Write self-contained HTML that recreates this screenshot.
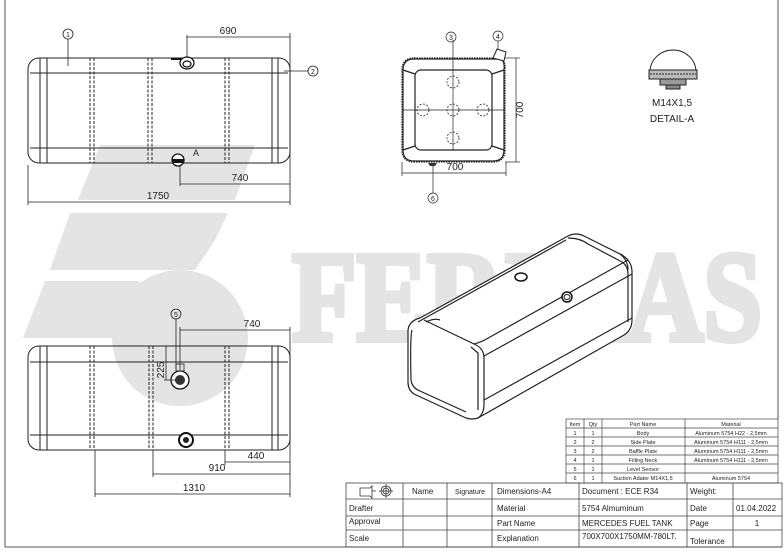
<!DOCTYPE html>
<html><head><meta charset="utf-8"><style>
html,body{margin:0;padding:0;background:#fff}
svg{display:block}
text{font-family:"Liberation Sans",sans-serif;fill:#222}
text.wm{font-family:"Liberation Serif",serif;font-weight:bold;fill:#e4e4e4}
</style></head><body>
<svg width="784" height="552" viewBox="0 0 784 552" xmlns="http://www.w3.org/2000/svg">
<!-- watermark -->
<g fill="#e4e4e4">
<polygon points="100,145 255,145 235,200 78,200"/>
<polygon points="70,213 228,213 215,240 195,270 50,270"/>
<polygon points="45,281 140,281 118,338 23,338"/>
<circle cx="180" cy="338" r="68"/>
</g>
<text class="wm" x="292" y="340" font-size="128" textLength="470" lengthAdjust="spacingAndGlyphs" stroke="#e4e4e4" stroke-width="6">FERIKAS</text>

<!-- frame -->
<g stroke="#555" fill="none" stroke-width="1">
<line x1="5" y1="0" x2="5" y2="547"/>
<line x1="778" y1="0" x2="778" y2="419"/>
<line x1="5" y1="547" x2="782" y2="547"/>
</g>

<!-- TOP VIEW -->
<g stroke="#222" fill="none" stroke-width="1">
<rect x="28" y="58" width="262" height="105" rx="11"/>
<line x1="30" y1="73" x2="288" y2="73"/>
<line x1="30" y1="148" x2="288" y2="148"/>
<line x1="40" y1="58" x2="40" y2="163"/><line x1="47" y1="58" x2="47" y2="163"/>
<line x1="272" y1="58" x2="272" y2="163"/><line x1="278" y1="58" x2="278" y2="163"/>
<g stroke-dasharray="3,1.5">
<line x1="90" y1="58" x2="90" y2="163"/><line x1="94" y1="58" x2="94" y2="163"/>
<line x1="148" y1="58" x2="148" y2="163"/><line x1="152" y1="58" x2="152" y2="163"/>
<line x1="225" y1="58" x2="225" y2="163"/><line x1="229" y1="58" x2="229" y2="163"/>
</g>
</g>
<g stroke="#111" fill="none" stroke-width="1.3">
<ellipse cx="187" cy="63" rx="7" ry="6" fill="#fff"/>
<ellipse cx="187" cy="64" rx="4" ry="3"/>
<line x1="171" y1="59" x2="181" y2="59" stroke-width="2"/>
<circle cx="178" cy="160" r="6" fill="#fff"/>
<path d="M172,160 h12 M173,162 h10" stroke-width="2"/>
</g>
<g stroke="#222" stroke-width="0.8" fill="none">
<line x1="187" y1="35" x2="187" y2="58"/><line x1="290" y1="33" x2="290" y2="205"/>
<line x1="187" y1="37" x2="290" y2="37"/>
<line x1="180" y1="165" x2="180" y2="186"/><line x1="180" y1="184" x2="290" y2="184"/>
<line x1="28" y1="165" x2="28" y2="205"/><line x1="28" y1="202" x2="290" y2="202"/>
<circle cx="68" cy="34" r="5"/><line x1="68" y1="39" x2="68" y2="66"/>
<circle cx="313" cy="71" r="5"/><line x1="284" y1="71" x2="308" y2="71"/>
</g>
<g font-size="10">
<text x="228" y="34" text-anchor="middle">690</text>
<text x="240" y="181" text-anchor="middle">740</text>
<text x="158" y="199" text-anchor="middle">1750</text>
<text x="193" y="156" font-size="9">A</text>
<text x="68" y="37" font-size="7" text-anchor="middle">1</text>
<text x="313" y="74" font-size="7" text-anchor="middle">2</text>
</g>

<!-- END VIEW -->
<g stroke="#222" fill="none" stroke-width="1.2">
<path d="M414,58 H500 Q506,60 505,70 V150 Q505,162 493,162 H414 Q402,162 402,150 V70 Q402,58 414,58 Z" stroke-dasharray="1.5,1"/>
<path d="M414,59 H500 Q505,60 504,70 V150 Q504,161 493,161 H414 Q403,161 403,150 V70 Q403,59 414,59 Z"/>
<rect x="415" y="70" width="77" height="80" rx="6"/>
<line x1="403" y1="70" x2="415" y2="74"/><line x1="504" y1="70" x2="492" y2="74"/>
<line x1="403" y1="150" x2="415" y2="146"/><line x1="504" y1="150" x2="492" y2="146"/>
</g>
<g stroke="#222" fill="none" stroke-width="0.8" stroke-dasharray="2,1.5">
<circle cx="453" cy="110" r="6"/><circle cx="453" cy="82" r="6"/><circle cx="453" cy="138" r="6"/>
<circle cx="423" cy="110" r="6"/><circle cx="483" cy="110" r="6"/>
</g>
<g stroke="#222" fill="none" stroke-width="0.7">
<line x1="402" y1="110" x2="505" y2="110"/><line x1="453" y1="40" x2="453" y2="150"/>
<line x1="505" y1="58" x2="520" y2="58"/><line x1="505" y1="162" x2="520" y2="162"/>
<line x1="516" y1="58" x2="516" y2="162"/>
<line x1="402" y1="162" x2="402" y2="176"/><line x1="506" y1="162" x2="506" y2="176"/>
<line x1="402" y1="173" x2="506" y2="173"/>
<circle cx="451" cy="37" r="5"/>
<circle cx="498" cy="36" r="5"/><line x1="498" y1="41" x2="498" y2="56"/>
<circle cx="433" cy="198" r="5"/><line x1="433" y1="165" x2="433" y2="193"/>
</g>
<path d="M493,58 l4,-9 l9,3 l-2,9 Z" fill="#fff" stroke="#222"/>
<path d="M428,163 h9 l-2,3 h-5 Z" fill="#333"/>
<g font-size="10">
<text x="455" y="170" text-anchor="middle">700</text>
<text transform="translate(523,110) rotate(-90)" text-anchor="middle">700</text>
<text x="451" y="40" font-size="7" text-anchor="middle">3</text>
<text x="498" y="39" font-size="7" text-anchor="middle">4</text>
<text x="433" y="201" font-size="7" text-anchor="middle">6</text>
</g>

<!-- DETAIL A -->
<path d="M650,72 A23,22 0 0 1 696,72 Z" fill="#fff" stroke="#222"/>
<rect x="649" y="70" width="48" height="9" fill="#bbb" stroke="#222"/>
<line x1="650" y1="74" x2="696" y2="74" stroke="#222" stroke-dasharray="2,1"/>
<rect x="660" y="79" width="26" height="6" fill="#999" stroke="#222"/>
<rect x="666" y="85" width="14" height="4" fill="#888" stroke="#222"/>
<text x="672" y="106" font-size="10" text-anchor="middle">M14X1,5</text>
<text x="672" y="122" font-size="10" text-anchor="middle">DETAIL-A</text>

<!-- BOTTOM VIEW -->
<g stroke="#222" fill="none" stroke-width="1">
<rect x="28" y="346" width="262" height="104" rx="11"/>
<line x1="30" y1="362" x2="288" y2="362"/>
<line x1="30" y1="435" x2="288" y2="435"/>
<line x1="40" y1="346" x2="40" y2="450"/><line x1="47" y1="346" x2="47" y2="450"/>
<line x1="272" y1="346" x2="272" y2="450"/><line x1="278" y1="346" x2="278" y2="450"/>
<g stroke-dasharray="3,1.5">
<line x1="90" y1="346" x2="90" y2="450"/><line x1="94" y1="346" x2="94" y2="450"/>
<line x1="149" y1="346" x2="149" y2="450"/><line x1="153" y1="346" x2="153" y2="450"/>
<line x1="225" y1="346" x2="225" y2="450"/><line x1="229" y1="346" x2="229" y2="450"/>
</g>
</g>
<circle cx="180" cy="380" r="9" fill="#fff" stroke="#111" stroke-width="1.3"/>
<circle cx="180" cy="380" r="5" fill="#333"/>
<rect x="176" y="364" width="8" height="7" fill="none" stroke="#222" stroke-width="0.8"/>
<circle cx="186" cy="440" r="7" fill="#fff" stroke="#111" stroke-width="2"/>
<circle cx="186" cy="440" r="3" fill="#222"/>
<g stroke="#222" stroke-width="0.8" fill="none">
<circle cx="176" cy="314" r="5"/><line x1="176" y1="319" x2="176" y2="370"/>
<line x1="180" y1="327" x2="180" y2="370"/><line x1="180" y1="330" x2="290" y2="330"/>
<line x1="290" y1="327" x2="290" y2="497"/>
<line x1="166" y1="346" x2="166" y2="380"/><line x1="164" y1="380" x2="176" y2="380"/>
<line x1="225" y1="450" x2="225" y2="465"/><line x1="225" y1="462" x2="290" y2="462"/>
<line x1="153" y1="450" x2="153" y2="477"/><line x1="153" y1="474" x2="290" y2="474"/>
<line x1="95" y1="450" x2="95" y2="497"/><line x1="95" y1="494" x2="290" y2="494"/>
</g>
<g font-size="10">
<text x="176" y="317" font-size="7" text-anchor="middle">5</text>
<text x="252" y="327" text-anchor="middle">740</text>
<text transform="translate(164,370) rotate(-90)" text-anchor="middle">225</text>
<text x="256" y="459" text-anchor="middle">440</text>
<text x="217" y="471" text-anchor="middle">910</text>
<text x="194" y="491" text-anchor="middle">1310</text>
</g>

<!-- 3D VIEW -->
<g stroke="#222" fill="none" stroke-width="1.2" stroke-linejoin="round">
<path d="M420,318 L568,236 Q576,232 584,236 L622,255 Q632,261 632,272 L632,320 Q632,330 624,335 L478,418 Q472,420 466,418 L414,394 Q408,390 408,382 L408,330 Q409,321 420,318 Z" fill="#fff"/>
<path d="M478,418 Q484,414 484,404 L484,358 Q484,348 474,344 L424,320"/>
<path d="M474,344 Q482,342 490,337 L628,260"/>
<path d="M412,330 Q410,336 411,380 Q412,388 420,391 L466,412"/>
<path d="M418,322 L566,240 M426,322 Q434,318 440,320"/>
<path d="M471,347 L478,353 L478,410 M484,356 L632,274 M484,400 L632,318"/>
<path d="M568,238 Q580,238 588,244 L622,262 Q628,266 628,274 L628,322"/>
<path d="M620,254 Q628,260 628,270"/>
</g>
<ellipse cx="521" cy="277" rx="6" ry="4" fill="#fff" stroke="#111" stroke-width="1.5"/>
<ellipse cx="567" cy="297" rx="5" ry="5" fill="#fff" stroke="#111" stroke-width="1.5"/>
<ellipse cx="567" cy="297" rx="3" ry="2.5" fill="none" stroke="#111"/>

<!-- PARTS TABLE -->
<g stroke="#444" stroke-width="0.7" fill="none">
<rect x="566" y="419" width="212" height="64"/>
<line x1="584" y1="419" x2="584" y2="483"/><line x1="602" y1="419" x2="602" y2="483"/><line x1="685" y1="419" x2="685" y2="483"/>
<line x1="566" y1="428" x2="778" y2="428"/><line x1="566" y1="437" x2="778" y2="437"/>
<line x1="566" y1="446" x2="778" y2="446"/><line x1="566" y1="455" x2="778" y2="455"/>
<line x1="566" y1="464" x2="778" y2="464"/><line x1="566" y1="473" x2="778" y2="473"/>
</g>
<g font-size="5.5" text-anchor="middle">
<text x="575" y="426">Item</text><text x="593" y="426">Qty</text><text x="643" y="426">Part Name</text><text x="731" y="426">Material</text>
<text x="575" y="435">1</text><text x="593" y="435">1</text><text x="643" y="435">Body</text><text x="731" y="435">Aluminum 5754 H22 - 2,5mm</text>
<text x="575" y="444">2</text><text x="593" y="444">2</text><text x="643" y="444">Side Plate</text><text x="731" y="444">Aluminum 5754 H111 - 2,5mm</text>
<text x="575" y="453">3</text><text x="593" y="453">2</text><text x="643" y="453">Baffle Plate</text><text x="731" y="453">Aluminum 5754 H111 - 2,5mm</text>
<text x="575" y="462">4</text><text x="593" y="462">1</text><text x="643" y="462">Filling Neck</text><text x="731" y="462">Aluminum 5754 H111 - 2,5mm</text>
<text x="575" y="471">5</text><text x="593" y="471">1</text><text x="643" y="471">Level Sensor</text>
<text x="575" y="480">6</text><text x="593" y="480">1</text><text x="643" y="480">Suction Adater M14X1,5</text><text x="731" y="480">Aluminum 5754</text>
</g>

<!-- TITLE BLOCK -->
<g stroke="#444" stroke-width="0.8" fill="none">
<rect x="346" y="483" width="436" height="64"/>
<line x1="346" y1="499" x2="782" y2="499"/><line x1="346" y1="516" x2="782" y2="516"/><line x1="346" y1="530" x2="782" y2="530"/>
<line x1="403" y1="483" x2="403" y2="547"/><line x1="447" y1="483" x2="447" y2="547"/>
<line x1="492" y1="483" x2="492" y2="547"/><line x1="579" y1="483" x2="579" y2="547"/>
<line x1="687" y1="483" x2="687" y2="547"/><line x1="733" y1="483" x2="733" y2="547"/>
</g>
<g stroke="#333" fill="none" stroke-width="0.8">
<path d="M360,488 h10 l2,-2 v12 l-2,-2 h-10 Z"/><line x1="372" y1="491" x2="376" y2="491"/>
<circle cx="386" cy="491" r="5"/><circle cx="386" cy="491" r="3"/><line x1="379" y1="491" x2="393" y2="491"/><line x1="386" y1="484" x2="386" y2="498"/>
</g>
<g font-size="8">
<text x="412" y="494">Name</text><text x="455" y="494" font-size="7">Signature</text>
<text x="497" y="494">Dimensions-A4</text><text x="582" y="494">Document : ECE R34</text><text x="690" y="494">Weight:</text>
<text x="349" y="511">Drafter</text><text x="497" y="511">Material</text><text x="582" y="511">5754 Almuminum</text><text x="690" y="511">Date</text><text x="736" y="511">01.04.2022</text>
<text x="349" y="524">Approval</text><text x="497" y="526">Part Name</text><text x="582" y="526">MERCEDES FUEL TANK</text><text x="690" y="526">Page</text><text x="757" y="526" text-anchor="middle">1</text>
<text x="349" y="541">Scale</text><text x="497" y="541">Explanation</text><text x="582" y="539">700X700X1750MM-780LT.</text><text x="690" y="544">Tolerance</text>
</g>
</svg>
</body></html>
